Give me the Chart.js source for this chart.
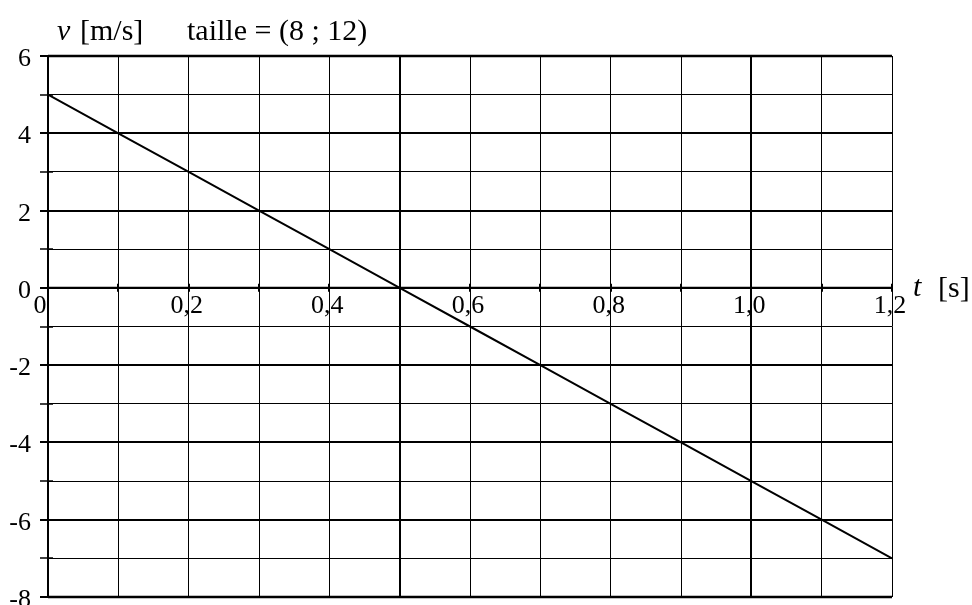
<!DOCTYPE html>
<html>
<head>
<meta charset="utf-8">
<script src="https://cdn.jsdelivr.net/npm/chart.js@4/dist/chart.umd.min.js"></script>
<style>
  html, body { margin: 0; padding: 0; background: #fff; }
  canvas { display: block; }
</style>
</head>
<body>
<canvas id="graph" width="972" height="605"></canvas>
<script>
// v(t) read at every grid column
const times = [0, 0.1, 0.2, 0.3, 0.4, 0.5, 0.6, 0.7, 0.8, 0.9, 1.0, 1.1, 1.2];
const speeds = [5, 4, 3, 2, 1, 0, -1, -2, -3, -4, -5, -6, -7];

const xTickValues = [0, 0.2, 0.4, 0.6, 0.8, 1.0, 1.2];
const xTickLabels = ['0', '0,2', '0,4', '0,6', '0,8', '1,0', '1,2'];
const yTickValues = [6, 4, 2, 0, -2, -4, -6, -8];
const yTickLabels = ['6', '4', '2', '0', '-2', '-4', '-6', '-8'];

const SERIF = "'Liberation Serif', 'Times New Roman', serif";

// axis line through v = 0, tick marks, labels and titles
const axesPlugin = {
  id: 'axes',
  beforeDatasetsDraw(chart) {
    const { ctx, chartArea: a, scales: { x, y } } = chart;
    const y0 = y.getPixelForValue(0);
    const x0 = x.getPixelForValue(0);
    ctx.save();
    ctx.strokeStyle = '#000';

    // horizontal axis
    ctx.lineWidth = 2;
    ctx.beginPath();
    ctx.moveTo(a.left, y0);
    ctx.lineTo(a.right, y0);
    ctx.stroke();
    // small ticks on it
    times.forEach(t => {
      const px = Math.round(x.getPixelForValue(t));
      ctx.beginPath();
      ctx.moveTo(px, y0 - 4);
      ctx.lineTo(px, y0 + 4);
      ctx.stroke();
    });

    // vertical axis with ticks to the left
    ctx.beginPath();
    ctx.moveTo(x0, a.top);
    ctx.lineTo(x0, a.bottom);
    ctx.stroke();
    for (let v = -8; v <= 6; v++) {
      const py = Math.round(y.getPixelForValue(v));
      ctx.lineWidth = v % 2 === 0 ? 2 : 1.5;
      ctx.beginPath();
      ctx.moveTo(x0 - 8, py);
      ctx.lineTo(x0 + 5, py);
      ctx.stroke();
    }

    // frame
    ctx.lineWidth = 2.5;
    ctx.beginPath();
    ctx.moveTo(a.left, a.top);
    ctx.lineTo(a.right, a.top);
    ctx.moveTo(a.left, a.bottom);
    ctx.lineTo(a.right, a.bottom);
    ctx.stroke();
    ctx.restore();
  },
  afterDraw(chart) {
    const { ctx, scales: { x, y } } = chart;
    const y0 = y.getPixelForValue(0);
    ctx.save();
    ctx.fillStyle = '#000';
    ctx.textBaseline = 'alphabetic';

    ctx.font = '26px ' + SERIF;
    ctx.textAlign = 'right';
    yTickValues.forEach((v, i) => {
      ctx.fillText(yTickLabels[i], 31, y.getPixelForValue(v) + 10);
    });

    ctx.textAlign = 'center';
    xTickValues.forEach((t, i) => {
      const shift = i === 0 ? -8 : -2;
      ctx.fillText(xTickLabels[i], x.getPixelForValue(t) + shift, y0 + 25);
    });

    // axis titles
    ctx.textAlign = 'left';
    ctx.font = 'italic 30px ' + SERIF;
    ctx.fillText('v', 57, 40);
    ctx.fillText('t', 913, 296);
    ctx.font = '30px ' + SERIF;
    ctx.fillText('[m/s]', 80, 40);
    ctx.fillText('taille = (8 ; 12)', 187, 40);
    ctx.fillText('[s]', 938, 297);
    ctx.restore();
  }
};

new Chart(document.getElementById('graph'), {
  type: 'scatter',
  data: {
    datasets: [{
      data: times.map((t, i) => ({ x: t, y: speeds[i] })),
      showLine: true,
      borderColor: '#000',
      borderWidth: 2,
      pointRadius: 0,
      fill: false
    }]
  },
  options: {
    responsive: false,
    animation: false,
    events: [],
    layout: { padding: { left: 48, top: 56, right: 80, bottom: 8 } },
    plugins: { legend: { display: false }, tooltip: { enabled: false } },
    scales: {
      x: {
        type: 'linear',
        min: 0,
        max: 1.2,
        ticks: { display: false, stepSize: 0.1 },
        border: { display: false },
        grid: {
          drawTicks: false,
          color: '#000',
          lineWidth: c => (Math.round(c.tick.value * 10) % 5 === 0 ? 2 : 1)
        }
      },
      y: {
        type: 'linear',
        min: -8,
        max: 6,
        ticks: { display: false, stepSize: 1 },
        border: { display: false },
        grid: {
          drawTicks: false,
          color: '#000',
          lineWidth: c => (c.tick.value % 2 === 0 ? 2 : 1)
        }
      }
    }
  },
  plugins: [axesPlugin]
});
</script>
</body>
</html>
